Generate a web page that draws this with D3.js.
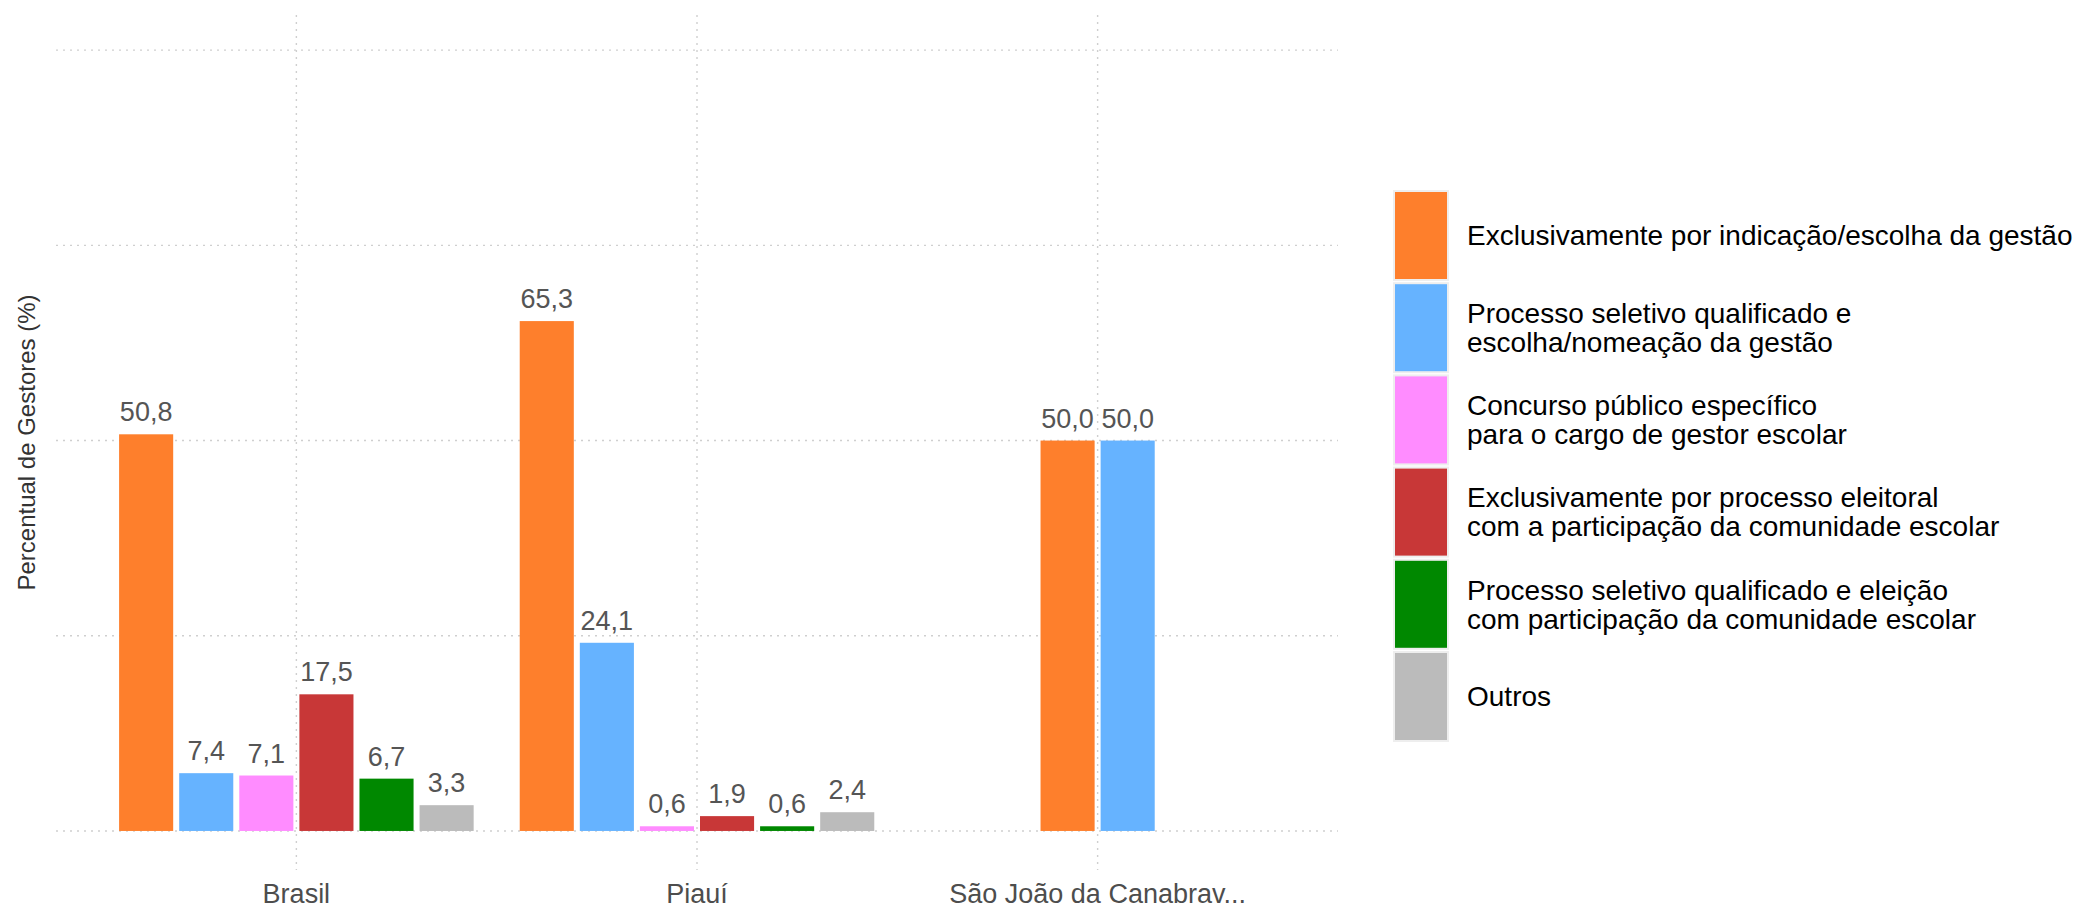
<!DOCTYPE html>
<html>
<head>
<meta charset="utf-8">
<script src="https://cdn.jsdelivr.net/npm/d3@7"></script>
<style>
  html, body { margin: 0; padding: 0; background: #ffffff; }
  svg { display: block; font-family: "Liberation Sans", Arial, Helvetica, sans-serif; }
</style>
</head>
<body>
<svg id="chart" width="2083" height="910"></svg>
<script>
// ---- data ----
const categories = ["Brasil", "Piauí", "São João da Canabrav..."];
const seriesNames = [
  "Exclusivamente por indicação/escolha da gestão",
  "Processo seletivo qualificado e\nescolha/nomeação da gestão",
  "Concurso público específico\npara o cargo de gestor escolar",
  "Exclusivamente por processo eleitoral\ncom a participação da comunidade escolar",
  "Processo seletivo qualificado e eleição\ncom participação da comunidade escolar",
  "Outros"
];
const seriesColors = ["#FE7F2C", "#66B3FF", "#FF8CFF", "#C83737", "#008800", "#BBBBBB"];
const exclIndicacao   = [50.8, 65.3, 50.0];
const seletivoNomeacao = [7.4, 24.1, 50.0];
const concursoPublico = [7.1, 0.6, null];
const processoEleitoral = [17.5, 1.9, null];
const seletivoEleicao = [6.7, 0.6, null];
const outros          = [3.3, 2.4, null];
const seriesValues = [exclIndicacao, seletivoNomeacao, concursoPublico, processoEleitoral, seletivoEleicao, outros];
const yGridTicks = [0, 25, 50, 75, 100];
const yTitle = "Percentual de Gestores (%)";

// ---- layout ----
const svg = d3.select("#chart");
const panel = { left: 56, right: 1338, top: 15, bottom: 870 };

const xPos = d3.scaleLinear().domain([0.4, categories.length + 0.6]).range([panel.left, panel.right]);
const y = d3.scaleLinear().domain([-5, 104.5]).range([panel.bottom, panel.top]);
const dodgeStep = 0.15; // in category units
const unit = xPos(1) - xPos(0);
const barW = dodgeStep * unit - 6;

const fmt = v => d3.format(".1f")(v).replace(".", ",");

// gridlines
const grid = svg.append("g");
grid.selectAll("line.h").data(yGridTicks).join("line")
  .attr("x1", panel.left).attr("x2", panel.right)
  .attr("y1", d => y(d)).attr("y2", d => y(d))
  .attr("stroke", "#cfcfcf").attr("stroke-width", 1.4).attr("stroke-dasharray", "2,5");
grid.selectAll("line.v").data(categories).join("line")
  .attr("x1", (d, i) => xPos(i + 1)).attr("x2", (d, i) => xPos(i + 1))
  .attr("y1", panel.top).attr("y2", panel.bottom)
  .attr("stroke", "#cfcfcf").attr("stroke-width", 1.4).attr("stroke-dasharray", "2,5");

// bars
const bars = [];
categories.forEach((c, ci) => {
  const present = seriesValues.map((arr, si) => ({ si, v: arr[ci] })).filter(d => d.v !== null);
  const n = present.length;
  present.forEach((d, k) => {
    const center = (ci + 1) + (k - (n - 1) / 2) * dodgeStep;
    bars.push({ cat: c, si: d.si, v: d.v, cx: xPos(center) });
  });
});

svg.append("g").selectAll("rect").data(bars).join("rect")
  .attr("x", d => d.cx - barW / 2)
  .attr("width", barW)
  .attr("y", d => y(d.v))
  .attr("height", d => y(0) - y(d.v))
  .attr("fill", d => seriesColors[d.si]);

svg.append("g").selectAll("text").data(bars).join("text")
  .attr("x", d => d.cx)
  .attr("y", d => y(d.v) - 13)
  .attr("text-anchor", "middle")
  .attr("font-size", 27)
  .attr("fill", "#555555")
  .text(d => fmt(d.v));

// x axis labels
svg.append("g").selectAll("text").data(categories).join("text")
  .attr("x", (d, i) => xPos(i + 1))
  .attr("y", 903)
  .attr("text-anchor", "middle")
  .attr("font-size", 27)
  .attr("fill", "#4d4d4d")
  .text(d => d);

// y title
svg.append("text")
  .attr("transform", `translate(35, ${(panel.top + panel.bottom) / 2}) rotate(-90)`)
  .attr("text-anchor", "middle")
  .attr("font-size", 24)
  .attr("fill", "#333333")
  .text(yTitle);

// legend
const legTop = 190, legStep = 92.2, keyX = 1394, keyW = 54, keyH = 89, textX = 1467, legFs = 28, lineH = 29;
const leg = svg.append("g");
seriesNames.forEach((name, i) => {
  const top = legTop + i * legStep;
  leg.append("rect")
    .attr("x", keyX).attr("y", top + 1).attr("width", keyW).attr("height", keyH)
    .attr("fill", seriesColors[i]).attr("stroke", "#eeeeee").attr("stroke-width", 2);
  const lines = name.split("\n");
  const cy = top + 1 + keyH / 2;
  const t = leg.append("text").attr("font-size", legFs).attr("fill", "#000000");
  lines.forEach((ln, li) => {
    t.append("tspan")
      .attr("x", textX)
      .attr("y", cy + (li - (lines.length - 1) / 2) * lineH + 0.35 * legFs)
      .text(ln);
  });
});
</script>
</body>
</html>
